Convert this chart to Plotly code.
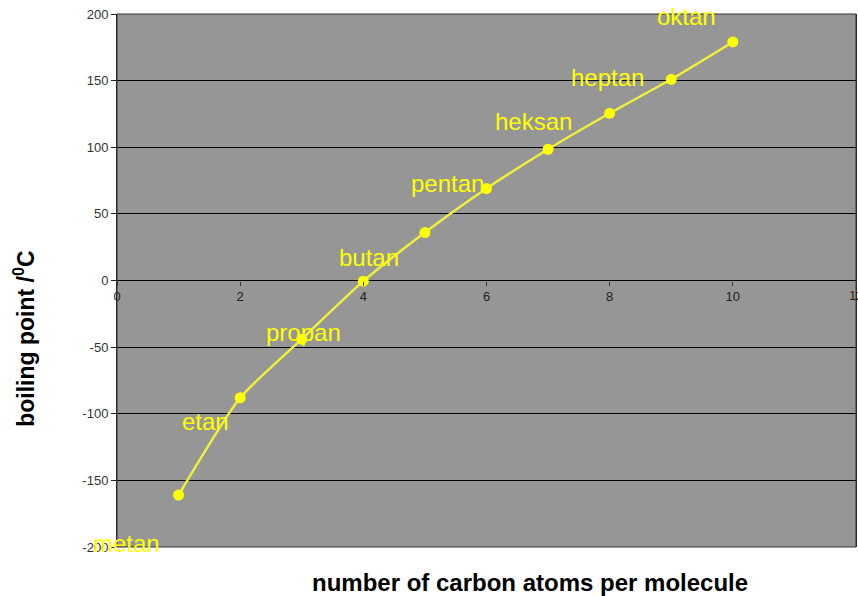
import plotly.graph_objects as go

carbons = [1, 2, 3, 4, 5, 6, 7, 8, 9, 10]
boiling = [-161, -88, -44, -0.5, 36, 69, 98.5, 125.5, 151, 179]
names = ["metan", "etan", "propan", "butan", "pentan", "heksan", "heptan", "oktan"]
label_x = [0.16, 1.43, 3.03, 4.1, 5.36, 6.77, 7.96, 9.25]
label_y = [-197, -106, -39, 17, 73, 119, 152, 198]
x_ticks = [0, 2, 4, 6, 8, 10, 12]
y_ticks = [-200, -150, -100, -50, 0, 50, 100, 150, 200]

fig = go.Figure()
fig.add_trace(go.Scatter(
    x=carbons, y=boiling, mode="lines+markers",
    line=dict(color="#f0f03c", width=2.5, shape="spline", smoothing=0.6),
    marker=dict(color="#ffff00", size=11),
    showlegend=False, hoverinfo="skip",
))

for n, lx, ly in zip(names, label_x, label_y):
    fig.add_annotation(x=lx, y=ly, text=n, showarrow=False,
                       font=dict(family="Liberation Sans, Arial", size=24, color="#ffff00"),
                       xanchor="center", yanchor="middle")

# last x tick label (partly outside the page, as in the original)
fig.add_annotation(x=x_ticks[-1], y=0.5, xref="x", yref="paper", yshift=-15,
                   text=str(x_ticks[-1]), showarrow=False,
                   font=dict(family="Liberation Sans, Arial", size=13, color="#222222"),
                   xanchor="center", yanchor="middle")

fig.add_annotation(xref="paper", yref="paper", x=0.559, y=-0.066, text="<b>number of carbon atoms per molecule</b>",
                   showarrow=False, font=dict(family="Liberation Sans, Arial", size=24, color="#000000"),
                   xanchor="center", yanchor="middle")
fig.add_annotation(xref="paper", yref="paper", x=-0.125, y=0.39, text="<b>boiling point /<sup>0</sup>C</b>",
                   showarrow=False, textangle=-90,
                   font=dict(family="Liberation Sans, Arial", size=23, color="#000000"),
                   xanchor="center", yanchor="middle")

fig.update_layout(
    width=858, height=596,
    margin=dict(l=117, r=2, t=14, b=49, autoexpand=False),
    paper_bgcolor="white", plot_bgcolor="#969696",
    xaxis=dict(range=[0, 12], tickvals=x_ticks, ticktext=[str(v) for v in x_ticks],
               showgrid=False, zeroline=False, automargin=False,
               anchor="free", position=0.5, showline=False,
               ticks="outside", ticklen=4, tickcolor="#333333",
               tickfont=dict(family="Liberation Sans, Arial", size=13, color="#222222")),
    yaxis=dict(range=[-200, 200], tickvals=y_ticks, ticktext=[str(v) for v in y_ticks],
               showgrid=True, gridcolor="#000000", gridwidth=1, automargin=False,
               zeroline=True, zerolinecolor="#000000", zerolinewidth=1,
               showline=True, linecolor="#222222", linewidth=1, mirror=True,
               ticks="outside", ticklen=5, tickcolor="#222222",
               tickfont=dict(family="Liberation Sans, Arial", size=13, color="#333333")),
)
fig.add_shape(type="rect", xref="paper", yref="paper", x0=0, y0=0, x1=1, y1=1,
              line=dict(color="#333333", width=1))

fig.write_html("out.html", config={"displayModeBar": False},
               post_script="document.body.style.margin='0';")
